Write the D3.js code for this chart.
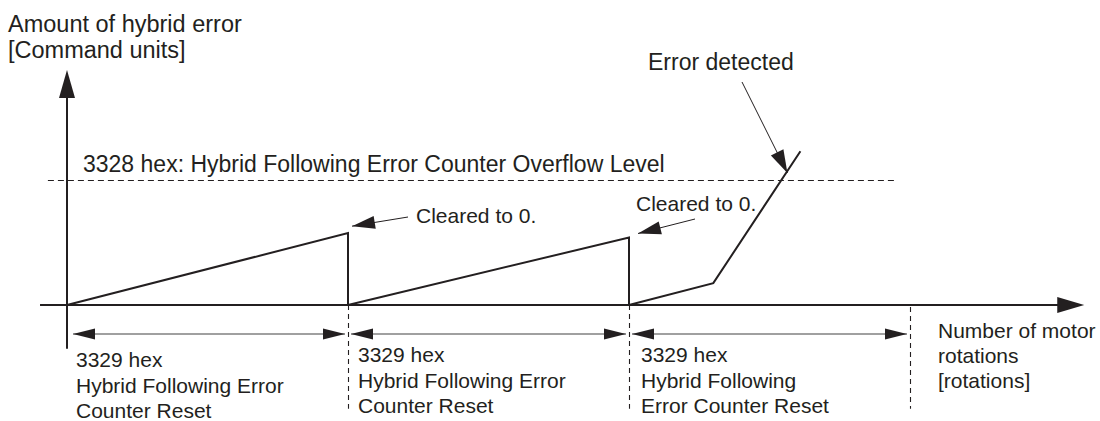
<!DOCTYPE html>
<html>
<head>
<meta charset="utf-8">
<script src="https://cdn.jsdelivr.net/npm/d3@7"></script>
<style>
  html, body { margin: 0; padding: 0; background: #fff; }
  svg { display: block; font-family: "Liberation Sans", Arial, sans-serif; }
</style>
</head>
<body>
<div id="chart"></div>
<script>
// Reset points along the rotation axis (one reset interval = 1 unit)
const resetPoints = [0, 1, 2, 3];

// Error trace: sawtooth that is cleared at each reset, then runs away
const errorTrace = [
  [{ x: 0, y: 0 }, { x: 1, y: 57.5 }, { x: 1, y: 0 }],
  [{ x: 1, y: 0 }, { x: 2, y: 54 }, { x: 2, y: 0 }],
  [{ x: 2, y: 0 }, { x: 2.3, y: 17.5 }, { x: 2.61, y: 123 }]
];

// Overflow level (3328 hex) in the same units
const overflowLevel = 100;

// Text
const yTitle = ['Amount of hybrid error', '[Command units]'];
const xTitle = ['Number of motor', 'rotations', '[rotations]'];
const overflowLabel = '3328 hex: Hybrid Following Error Counter Overflow Level';
const resetLabels = [
  ['3329 hex', 'Hybrid Following Error', 'Counter Reset'],
  ['3329 hex', 'Hybrid Following Error', 'Counter Reset'],
  ['3329 hex', 'Hybrid Following', 'Error Counter Reset']
];
const clearedLabel = 'Cleared to 0.';
const errorLabel = 'Error detected';

const width = 1100;
const height = 421;
const ink = '#231f20';

const xScale = d3.scaleLinear().domain([0, 3]).range([67, 910]);
const yScale = d3.scaleLinear().domain([0, overflowLevel]).range([305, 180]);

const svg = d3.select('#chart').append('svg')
  .attr('width', width)
  .attr('height', height);

// filled triangle pointing from (fx,fy) to tip (tx,ty)
function arrowHead(g, tx, ty, fx, fy, len, half, color) {
  const a = Math.atan2(ty - fy, tx - fx);
  const bx = tx - len * Math.cos(a);
  const by = ty - len * Math.sin(a);
  const px = -Math.sin(a) * half;
  const py = Math.cos(a) * half;
  g.append('path')
    .attr('d', `M${tx},${ty}L${bx + px},${by + py}L${bx - px},${by - py}Z`)
    .attr('fill', color || ink);
}

// axes
const axes = svg.append('g');
axes.append('line')
  .attr('x1', xScale(-0.096)).attr('x2', xScale(3.55))
  .attr('y1', yScale(0)).attr('y2', yScale(0))
  .attr('stroke', ink).attr('stroke-width', 2);
arrowHead(axes, xScale(3.62), yScale(0), xScale(0), yScale(0), 27, 8);

axes.append('line')
  .attr('x1', xScale(0)).attr('x2', xScale(0))
  .attr('y1', yScale(-35)).attr('y2', yScale(180))
  .attr('stroke', ink).attr('stroke-width', 2);
arrowHead(axes, xScale(0), yScale(188), xScale(0), yScale(0), 28, 8);

// overflow level
svg.append('line')
  .attr('x1', xScale(-0.068)).attr('x2', xScale(2.95))
  .attr('y1', yScale(overflowLevel) + 0.5).attr('y2', yScale(overflowLevel) + 0.5)
  .attr('stroke', ink).attr('stroke-width', 1.2)
  .attr('stroke-dasharray', '6,4');

svg.append('text')
  .attr('x', 83).attr('y', yScale(overflowLevel) - 8)
  .attr('font-size', 23).attr('fill', ink)
  .text(overflowLabel);

// reset markers (dashed verticals)
svg.selectAll('line.reset')
  .data(resetPoints.slice(1))
  .enter().append('line')
  .attr('class', 'reset')
  .attr('x1', d => Math.round(xScale(d)) + 0.5).attr('x2', d => Math.round(xScale(d)) + 0.5)
  .attr('y1', d => d === 3 ? yScale(-1.6) : yScale(0))
  .attr('y2', yScale(-83))
  .attr('stroke', ink).attr('stroke-width', 1.1)
  .attr('stroke-dasharray', '5,4');

// error trace
const line = d3.line()
  .x(d => xScale(d.x))
  .y(d => yScale(d.y));

svg.selectAll('path.trace')
  .data(errorTrace)
  .enter().append('path')
  .attr('class', 'trace')
  .attr('d', line)
  .attr('fill', 'none')
  .attr('stroke', ink)
  .attr('stroke-width', 2)
  .attr('stroke-linejoin', 'miter');

// interval dimension arrows
const dimY = yScale(-23.2);
const dims = svg.append('g');
d3.pairs(resetPoints).forEach(([a, b], i) => {
  const x1 = xScale(a) + (i === 0 ? 6 : 3);
  const x2 = xScale(b) - 3;
  dims.append('line')
    .attr('x1', x1).attr('x2', x2)
    .attr('y1', dimY).attr('y2', dimY)
    .attr('stroke', '#808080').attr('stroke-width', 1.5);
  arrowHead(dims, x1, dimY, x2, dimY, 22, 5.5);
  arrowHead(dims, x2, dimY, x1, dimY, 22, 5.5);
});

// reset labels
const labelOffsets = [[9, 367], [10, 362], [12, 362]];
resetLabels.forEach((lines, i) => {
  const t = svg.append('text')
    .attr('font-size', 21).attr('fill', ink);
  lines.forEach((s, j) => {
    t.append('tspan')
      .attr('x', xScale(resetPoints[i]) + labelOffsets[i][0])
      .attr('y', labelOffsets[i][1] + j * 25.5)
      .text(s);
  });
});

// axis titles
const yt = svg.append('text').attr('font-size', 23.5).attr('fill', ink);
yTitle.forEach((s, j) => {
  yt.append('tspan').attr('x', 8).attr('y', 32 + j * 26).text(s);
});

const xt = svg.append('text').attr('font-size', 21).attr('fill', ink);
xTitle.forEach((s, j) => {
  xt.append('tspan').attr('x', 938).attr('y', 338 + j * 25).text(s);
});

// "Cleared to 0." callouts
const ann = svg.append('g');
errorTrace.slice(0, 2).forEach((seg, i) => {
  const peak = seg[1];
  const tipX = xScale(peak.x) + (i === 0 ? 4 : 9);
  const tipY = yScale(peak.y) - 7 + (i === 0 ? 0 : 3);
  const fromX = i === 0 ? 408 : 695;
  const fromY = i === 0 ? 217 : 219;
  ann.append('line')
    .attr('x1', fromX).attr('y1', fromY)
    .attr('x2', tipX).attr('y2', tipY)
    .attr('stroke', ink).attr('stroke-width', 1);
  arrowHead(ann, tipX, tipY, fromX, fromY, 23, 6.5);
  ann.append('text')
    .attr('x', i === 0 ? 416 : 636)
    .attr('y', i === 0 ? 223 : 211)
    .attr('font-size', 21).attr('fill', ink)
    .text(clearedLabel);
});

// "Error detected" callout, pointing at the crossing of the overflow level
const last = errorTrace[2];
const k = (overflowLevel - last[1].y) / (last[2].y - last[1].y);
const crossX = xScale(last[1].x + k * (last[2].x - last[1].x)) + 6;
const crossY = yScale(overflowLevel) - 7;
ann.append('line')
  .attr('x1', 742).attr('y1', 82)
  .attr('x2', crossX).attr('y2', crossY)
  .attr('stroke', ink).attr('stroke-width', 1);
arrowHead(ann, crossX, crossY, 742, 82, 23, 7);
ann.append('text')
  .attr('x', 648).attr('y', 70)
  .attr('font-size', 23).attr('fill', ink)
  .text(errorLabel);
</script>
</body>
</html>
